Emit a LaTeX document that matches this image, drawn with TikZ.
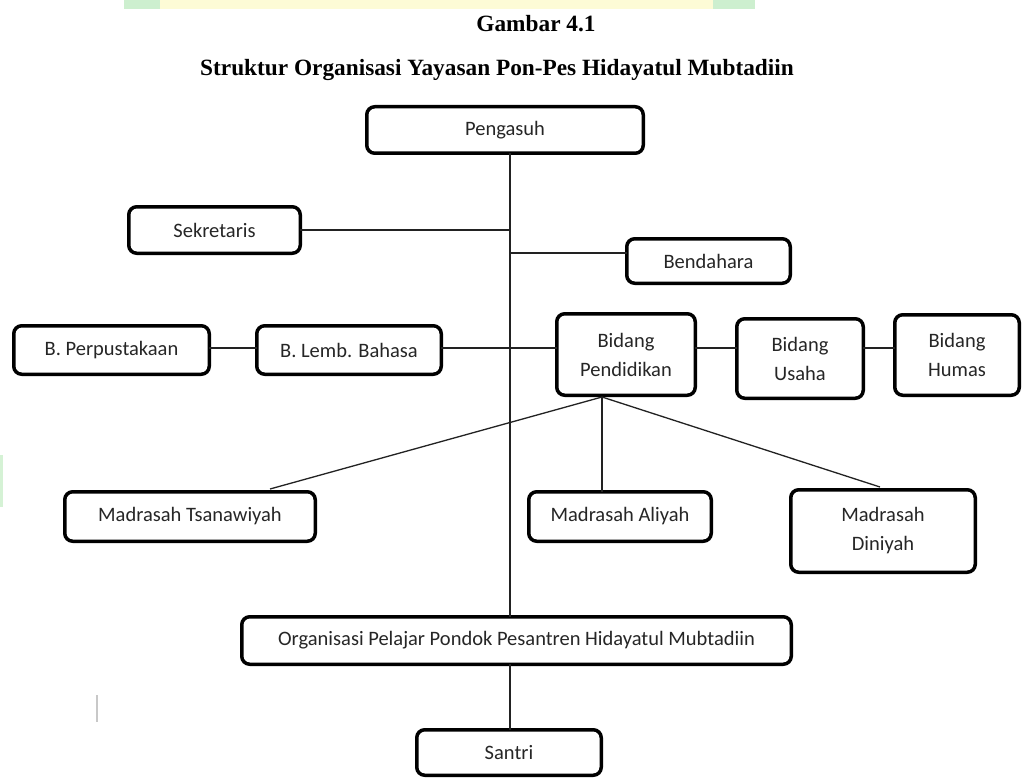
\documentclass[tikz,border=0pt]{standalone}
\usepackage{fontspec}
\setmainfont{Carlito}
\newfontfamily\titlefont{Liberation Serif}
\definecolor{txt}{HTML}{262626}
\definecolor{linec}{HTML}{222222}
\definecolor{barg}{HTML}{CDEFCF}
\definecolor{bary}{HTML}{FDFBD6}
\definecolor{markg}{HTML}{D5F2D5}
\definecolor{markgray}{HTML}{C8C8C8}
\begin{document}
\begin{tikzpicture}[x=1pt,y=-1pt,
  box/.style={draw=black, line width=3.5pt, rounded corners=8pt, fill=white,
    inner sep=0pt, outer sep=0pt, align=center, text=txt,
    font=\fontsize{20.5}{29}\selectfont},
  conn/.style={draw=linec, line width=1.3pt},
  ttl/.style={font=\titlefont\bfseries\fontsize{23.3}{28}\selectfont, inner sep=0pt, anchor=base, text=black}]
\useasboundingbox (0,0) rectangle (1024,778);
\fill[white] (0,0) rectangle (1024,778);
% top bar
\fill[bary] (160,0) rectangle (713,9);
\fill[barg] (124,0) rectangle (160,9);
\fill[barg] (713,0) rectangle (755,9);
% side marks
\fill[markg] (0,455) rectangle (3,507);
\draw[markgray, line width=1.5pt] (97,695) -- (97,722);
% titles
\node[ttl] (gambar) at (536,32) {Gambar 4.1};
\node[ttl] (judul) at (497,76) {Struktur Organisasi Yayasan Pon-Pes Hidayatul Mubtadiin};
% boxes
\node[box, minimum width=276.5pt, minimum height=46.5pt] (peng) at (505,130) {Pengasuh};
\node[box, minimum width=171.5pt, minimum height=46.5pt] (sek) at (214.5,230) {Sekretaris};
\node[box, minimum width=163.5pt, minimum height=44.5pt] (bend) at (708.5,261) {Bendahara};
\node[box, minimum width=195.5pt, minimum height=48.5pt] (perp) at (111.5,350) {B. Perpustakaan};
\node[box, minimum width=184.5pt, minimum height=48.5pt] (lemb) at (349,350) {B. Lemb. Bahasa};
\node[box, minimum width=138.5pt, minimum height=81.5pt] (pend) at (626,354.5) {Bidang\\Pendidikan};
\node[box, minimum width=126.5pt, minimum height=79.5pt] (usaha) at (800,358.5) {Bidang\\Usaha};
\node[box, minimum width=124.5pt, minimum height=80.5pt] (humas) at (957,355) {Bidang\\Humas};
\node[box, minimum width=250.5pt, minimum height=49.5pt] (mts) at (190,516.5) {Madrasah Tsanawiyah};
\node[box, minimum width=182.5pt, minimum height=49.5pt] (ma) at (620,516.5) {Madrasah Aliyah};
\node[box, minimum width=184.5pt, minimum height=82.5pt] (mdin) at (883,531) {Madrasah\\Diniyah};
\node[box, minimum width=549.5pt, minimum height=47.5pt] (org) at (516.5,640.5) {Organisasi Pelajar Pondok Pesantren Hidayatul Mubtadiin};
\node[box, minimum width=184.5pt, minimum height=45.5pt] (santri) at (509,752.5) {Santri};
% helper coordinates
\coordinate (tx) at (510,0);
\coordinate (tb) at (510,253);
\coordinate (tl) at (510,348);
\coordinate (pb) at (602,397);
\coordinate (mtsn) at (270,489);
\coordinate (mdinn) at (880,487);
% connectors
\draw[conn] (peng.south -| tx) -- (org.north -| tx);
\draw[conn] (org.south -| tx) -- (santri.north -| tx);
\draw[conn] (sek.east) -- (sek.east -| tx);
\draw[conn] (tb) -- (tb -| bend.west);
\draw[conn] (tl -| perp.east) -- (tl -| lemb.west);
\draw[conn] (tl -| lemb.east) -- (tl -| pend.west);
\draw[conn] (tl -| pend.east) -- (tl -| usaha.west);
\draw[conn] (tl -| usaha.east) -- (tl -| humas.west);
\draw[conn] (pb) -- (mtsn);
\draw[conn] (pb) -- (pb |- ma.north);
\draw[conn] (pb) -- (mdinn);
\end{tikzpicture}
\end{document}
